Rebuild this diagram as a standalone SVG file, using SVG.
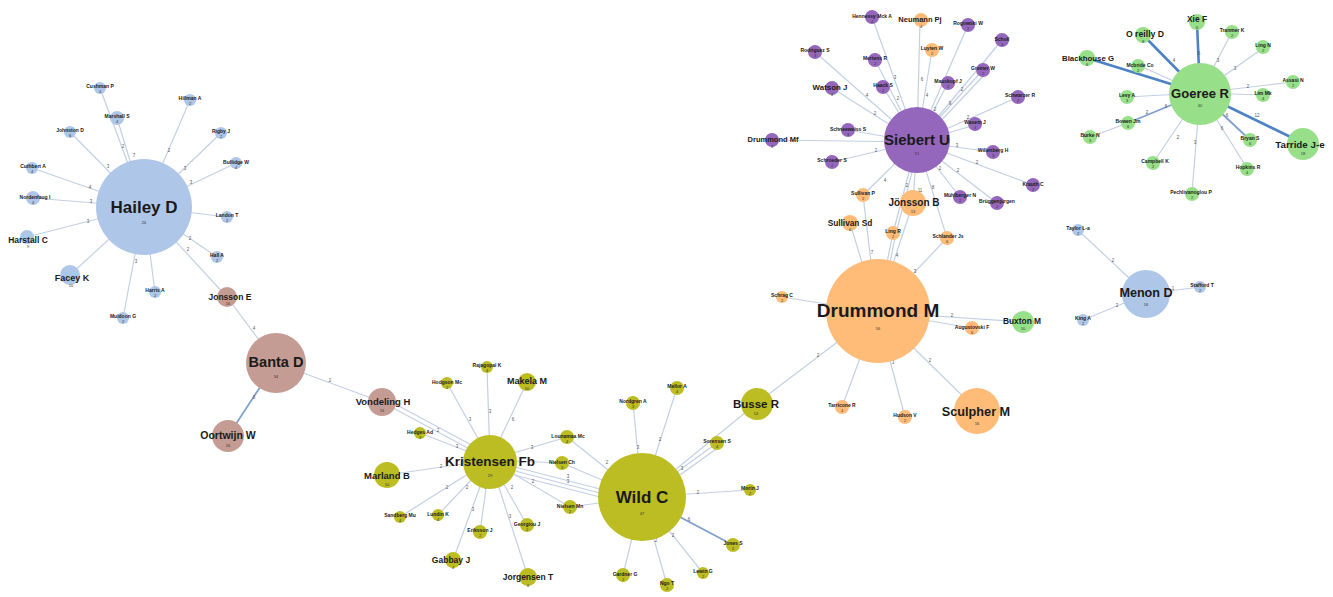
<svg xmlns="http://www.w3.org/2000/svg" width="1333" height="597" viewBox="0 0 1333 597">
<style>
text{font-family:"Liberation Sans",Arial,sans-serif;font-weight:bold;fill:#1a1a1a;text-anchor:middle}
.e line{stroke:#c3d0e4;stroke-width:1.2}
.e line.t{stroke:#4d82c4;stroke-width:2.6}
.e line.m{stroke:#7fa0cf;stroke-width:1.8}
.w text{font-size:4.5px;font-weight:normal;fill:#555}
.b{fill:#aec7e8}.r{fill:#c49c94}.y{fill:#bcbd22}.o{fill:#ffbb78}.p{fill:#9467bd}.g{fill:#98df8a}
text.s{font-size:5px}
text.n{font-size:4px;font-weight:normal;fill:#333}
</style>
<rect width="1333" height="597" fill="#ffffff"/>
<g id="connectors" class="e">
<!-- Hailey -->
<line x1="144" y1="207" x2="100" y2="88"/><line x1="144" y1="207" x2="117" y2="118"/><line x1="144" y1="207" x2="70" y2="132"/>
<line x1="144" y1="207" x2="190" y2="100"/><line x1="144" y1="207" x2="221" y2="133"/><line x1="144" y1="207" x2="236" y2="163"/>
<line x1="144" y1="207" x2="227" y2="217"/><line x1="144" y1="207" x2="217" y2="257"/><line x1="144" y1="207" x2="155" y2="292"/>
<line x1="144" y1="207" x2="123" y2="318"/><line x1="144" y1="207" x2="70" y2="275"/><line x1="144" y1="207" x2="27" y2="237"/>
<line x1="144" y1="207" x2="33" y2="198"/><line x1="144" y1="207" x2="32" y2="168"/><line x1="144" y1="207" x2="227" y2="297"/>
<!-- Banta -->
<line x1="227" y1="297" x2="276" y2="363"/><line class="m" x1="276" y1="363" x2="228" y2="436"/><line x1="276" y1="363" x2="382" y2="402"/>
<line x1="382" y1="402" x2="490" y2="460"/><line x1="384" y1="398" x2="490" y2="455"/>
<!-- Kristensen -->
<line x1="420" y1="433" x2="490" y2="460"/><line x1="490" y1="460" x2="487" y2="367"/><line x1="490" y1="460" x2="447" y2="383"/>
<line x1="490" y1="460" x2="527" y2="382"/><line x1="490" y1="460" x2="387" y2="475"/><line x1="490" y1="460" x2="400" y2="517"/>
<line x1="490" y1="460" x2="438" y2="515"/><line x1="490" y1="460" x2="480" y2="532"/><line x1="490" y1="460" x2="527" y2="525"/>
<line x1="490" y1="460" x2="453" y2="560"/><line x1="490" y1="460" x2="528" y2="577"/><line x1="490" y1="460" x2="567" y2="437"/>
<line x1="490" y1="460" x2="562" y2="463"/><line x1="490" y1="460" x2="570" y2="507"/>
<line x1="515" y1="467" x2="600" y2="489"/><line x1="515" y1="471" x2="600" y2="493"/><line x1="514" y1="475" x2="600" y2="497"/>
<!-- Wild -->
<line x1="567" y1="437" x2="642" y2="497"/><line x1="562" y1="463" x2="642" y2="497"/><line x1="570" y1="507" x2="642" y2="497"/>
<line x1="642" y1="497" x2="633" y2="403"/><line x1="642" y1="497" x2="677" y2="388"/><line x1="642" y1="497" x2="717" y2="443"/>
<line x1="645" y1="500" x2="719" y2="447"/><line x1="642" y1="497" x2="757" y2="403"/><line x1="642" y1="497" x2="750" y2="490"/>
<line class="m" x1="642" y1="497" x2="733" y2="545"/><line x1="642" y1="497" x2="703" y2="573"/><line x1="642" y1="497" x2="667" y2="585"/>
<line x1="642" y1="497" x2="623" y2="575"/>
<!-- Drummond -->
<line x1="757" y1="403" x2="877" y2="312"/><line x1="877" y1="312" x2="863" y2="195"/><line x1="877" y1="312" x2="913" y2="203"/>
<line x1="877" y1="312" x2="850" y2="223"/><line x1="877" y1="312" x2="893" y2="233"/><line x1="880" y1="312" x2="896" y2="233"/>
<line x1="877" y1="312" x2="947" y2="238"/><line x1="877" y1="312" x2="782" y2="297"/><line x1="877" y1="312" x2="1023" y2="322"/>
<line x1="877" y1="312" x2="972" y2="328"/><line x1="877" y1="312" x2="842" y2="407"/><line x1="877" y1="312" x2="905" y2="417"/>
<line x1="877" y1="312" x2="977" y2="410"/>
<!-- Siebert -->
<line x1="917" y1="142" x2="872" y2="17"/><line x1="917" y1="142" x2="920" y2="20"/><line x1="917" y1="142" x2="968" y2="25"/>
<line x1="917" y1="142" x2="815" y2="52"/><line x1="917" y1="142" x2="932" y2="50"/><line x1="917" y1="142" x2="1002" y2="40"/>
<line x1="917" y1="142" x2="875" y2="60"/><line x1="917" y1="142" x2="983" y2="70"/><line x1="921" y1="142" x2="986" y2="73"/>
<line x1="917" y1="142" x2="832" y2="88"/><line x1="917" y1="142" x2="883" y2="87"/><line x1="917" y1="142" x2="948" y2="83"/>
<line x1="917" y1="142" x2="1018" y2="97"/><line x1="917" y1="142" x2="848" y2="130"/><line x1="917" y1="142" x2="772" y2="140"/>
<line x1="917" y1="142" x2="975" y2="125"/><line x1="917" y1="142" x2="832" y2="162"/><line x1="917" y1="142" x2="993" y2="152"/>
<line x1="917" y1="142" x2="1033" y2="185"/><line x1="917" y1="142" x2="960" y2="197"/><line x1="917" y1="142" x2="997" y2="203"/>
<line x1="917" y1="142" x2="863" y2="195"/><line x1="917" y1="142" x2="913" y2="203"/><line x1="917" y1="142" x2="893" y2="233"/>
<line x1="920" y1="142" x2="896" y2="233"/><line x1="917" y1="142" x2="947" y2="238"/>
<!-- Goeree -->
<line class="t" x1="1200" y1="93" x2="1197" y2="23"/><line class="t" x1="1200" y1="93" x2="1143" y2="35"/><line x1="1200" y1="93" x2="1232" y2="32"/>
<line x1="1200" y1="93" x2="1263" y2="48"/><line class="t" x1="1200" y1="93" x2="1087" y2="58"/><line x1="1200" y1="93" x2="1138" y2="65"/>
<line x1="1200" y1="93" x2="1293" y2="82"/><line x1="1200" y1="93" x2="1127" y2="97"/><line x1="1200" y1="93" x2="1263" y2="95"/>
<line class="m" x1="1200" y1="93" x2="1128" y2="123"/><line x1="1128" y1="123" x2="1090" y2="137"/><line class="m" x1="1200" y1="93" x2="1250" y2="140"/>
<line class="t" x1="1200" y1="93" x2="1303" y2="143"/><line x1="1200" y1="93" x2="1153" y2="163"/><line x1="1200" y1="93" x2="1247" y2="168"/>
<line x1="1200" y1="93" x2="1192" y2="193"/>
<!-- Menon -->
<line x1="1146" y1="294" x2="1078" y2="230"/><line x1="1146" y1="294" x2="1200" y2="287"/><line x1="1146" y1="294" x2="1083" y2="320"/>
</g>
<g id="weights" class="w">
<text x="123" y="148">2</text><text x="134" y="157">7</text><text x="108" y="168">3</text><text x="169" y="152">2</text><text x="185" y="170">3</text>
<text x="191" y="184">3</text><text x="190" y="240">2</text><text x="136" y="263">3</text><text x="88" y="223">3</text><text x="91" y="203">3</text>
<text x="90" y="189">4</text><text x="188" y="251">2</text><text x="254" y="330">4</text><text x="254" y="399">6</text><text x="330" y="382">2</text>
<text x="438" y="432">2</text><text x="457" y="448">3</text><text x="490" y="413">3</text><text x="470" y="421">3</text><text x="513" y="421">6</text>
<text x="441" y="468">2</text><text x="447" y="489">2</text><text x="467" y="489">2</text><text x="485" y="489">3</text><text x="512" y="489">2</text>
<text x="473" y="511">3</text><text x="510" y="518">3</text><text x="532" y="449">3</text><text x="568" y="478">3</text><text x="568" y="483">3</text>
<text x="533" y="483">2</text><text x="607" y="464">2</text><text x="638" y="449">3</text><text x="660" y="441">2</text><text x="682" y="470">3</text>
<text x="698" y="494">2</text><text x="689" y="521">6</text><text x="673" y="537">2</text><text x="656" y="542">2</text><text x="818" y="357">2</text>
<text x="872" y="254">7</text><text x="897" y="257">4</text><text x="915" y="273">3</text><text x="952" y="317">2</text><text x="893" y="364">3</text>
<text x="930" y="362">2</text><text x="885" y="182">4</text><text x="907" y="187">2</text><text x="920" y="192">11</text><text x="933" y="189">8</text>
<text x="895" y="79">3</text><text x="898" y="100">2</text><text x="867" y="97">4</text><text x="875" y="115">2</text><text x="922" y="81">6</text>
<text x="927" y="97">4</text><text x="935" y="111">2</text><text x="950" y="105">9</text><text x="962" y="91">2</text><text x="968" y="119">2</text>
<text x="957" y="147">3</text><text x="977" y="164">2</text><text x="958" y="172">2</text><text x="940" y="170">2</text><text x="876" y="152">2</text>
<text x="1199" y="55">6</text><text x="1174" y="62">4</text><text x="1218" y="62">3</text><text x="1235" y="70">3</text><text x="1248" y="88">2</text>
<text x="1147" y="114">2</text><text x="1166" y="108">6</text><text x="1227" y="117">6</text><text x="1257" y="117">12</text><text x="1178" y="139">2</text>
<text x="1222" y="130">6</text><text x="1195" y="144">3</text><text x="1113" y="262">2</text><text x="1173" y="290">1</text><text x="1117" y="307">2</text>
</g>
<!-- Hailey cluster -->
<g id="n-hailey"><circle class="b" cx="144" cy="207" r="48"/><text x="144" y="213" font-size="17">Hailey D</text><text class="n" x="144" y="224" font-size="5">26</text></g>
<g id="n-cushman"><circle class="b" cx="100" cy="88" r="6"/><text class="s" x="100" y="88">Cushman P</text><text class="n" x="100" y="93">4</text></g>
<g id="n-marshall"><circle class="b" cx="117" cy="118" r="7"/><text class="s" x="117" y="118">Marshall S</text><text class="n" x="117" y="123">4</text></g>
<g id="n-johnston"><circle class="b" cx="70" cy="132" r="6"/><text class="s" x="70" y="132">Johnston D</text><text class="n" x="70" y="137">6</text></g>
<g id="n-hillman"><circle class="b" cx="190" cy="100" r="6"/><text class="s" x="190" y="100">Hillman A</text><text class="n" x="190" y="105">2</text></g>
<g id="n-rigby"><circle class="b" cx="221" cy="133" r="6"/><text class="s" x="221" y="133">Rigby J</text><text class="n" x="221" y="138">2</text></g>
<g id="n-bullidge"><circle class="b" cx="236" cy="163" r="6"/><text class="s" x="236" y="164">Bullidge W</text><text class="n" x="236" y="169">4</text></g>
<g id="n-landon"><circle class="b" cx="227" cy="217" r="6"/><text class="s" x="227" y="217">Landon T</text><text class="n" x="227" y="222">2</text></g>
<g id="n-hall"><circle class="b" cx="217" cy="257" r="6"/><text class="s" x="217" y="257">Hall A</text><text class="n" x="217" y="262">2</text></g>
<g id="n-harris"><circle class="b" cx="155" cy="292" r="6"/><text class="s" x="155" y="292">Harris A</text><text class="n" x="155" y="297">2</text></g>
<g id="n-muldoon"><circle class="b" cx="123" cy="318" r="6"/><text class="s" x="123" y="318">Muldoon G</text><text class="n" x="123" y="323">2</text></g>
<g id="n-facey"><circle class="b" cx="70" cy="275" r="10"/><text x="72" y="281" font-size="9">Facey K</text><text class="n" x="71" y="287">10</text></g>
<g id="n-harstall"><circle class="b" cx="27" cy="237" r="7"/><text x="28" y="243" font-size="8.5">Harstall C</text><text class="n" x="28" y="248">9</text></g>
<g id="n-nordenfaug"><circle class="b" cx="33" cy="198" r="7"/><text class="s" x="35" y="199">Nordenfaug I</text><text class="n" x="33" y="204">4</text></g>
<g id="n-cuthbert"><circle class="b" cx="32" cy="168" r="6"/><text class="s" x="33" y="168">Cuthbert A</text><text class="n" x="32" y="173">4</text></g>
<!-- Banta cluster -->
<g id="n-jonsson-e"><circle class="r" cx="227" cy="297" r="10"/><text x="230" y="300" font-size="8.5">Jonsson E</text><text class="n" x="228" y="305">16</text></g>
<g id="n-banta"><circle class="r" cx="276" cy="363" r="30"/><text x="276" y="367" font-size="14.5">Banta D</text><text class="n" x="276" y="378">34</text></g>
<g id="n-oortwijn"><circle class="r" cx="228" cy="436" r="16"/><text x="228" y="439" font-size="10.5">Oortwijn W</text><text class="n" x="228" y="447">16</text></g>
<g id="n-vondeling"><circle class="r" cx="382" cy="402" r="14"/><text x="383" y="405" font-size="9.5">Vondeling H</text><text class="n" x="382" y="412">16</text></g>
<!-- Kristensen cluster -->
<g id="n-kristensen"><circle class="y" cx="490" cy="462" r="27"/><text x="490" y="466" font-size="13.5">Kristensen Fb</text><text class="n" x="490" y="477">29</text></g>
<g id="n-rajagopal"><circle class="y" cx="487" cy="367" r="6"/><text class="s" x="487" y="367">Rajagopal K</text><text class="n" x="487" y="372">4</text></g>
<g id="n-hodgson"><circle class="y" cx="447" cy="383" r="6"/><text class="s" x="447" y="384">Hodgson Mc</text><text class="n" x="447" y="389">2</text></g>
<g id="n-makela"><circle class="y" cx="527" cy="382" r="9"/><text x="527" y="384" font-size="9">Makela M</text><text class="n" x="527" y="390">10</text></g>
<g id="n-hedges"><circle class="y" cx="420" cy="433" r="6"/><text class="s" x="420" y="434">Hedges Ad</text><text class="n" x="420" y="439">3</text></g>
<g id="n-marland"><circle class="y" cx="387" cy="475" r="13"/><text x="387" y="479" font-size="9.5">Marland B</text><text class="n" x="387" y="486">10</text></g>
<g id="n-sandberg"><circle class="y" cx="400" cy="517" r="6"/><text class="s" x="400" y="517">Sandberg Mu</text><text class="n" x="400" y="522">4</text></g>
<g id="n-lundin"><circle class="y" cx="438" cy="515" r="6"/><text class="s" x="438" y="516">Lundin K</text><text class="n" x="438" y="521">4</text></g>
<g id="n-eriksson"><circle class="y" cx="480" cy="532" r="7"/><text class="s" x="480" y="532">Eriksson J</text><text class="n" x="480" y="537">2</text></g>
<g id="n-georgiou"><circle class="y" cx="527" cy="525" r="7"/><text class="s" x="527" y="526">Georgiou J</text><text class="n" x="527" y="531">2</text></g>
<g id="n-gabbay"><circle class="y" cx="453" cy="560" r="8"/><text x="451" y="563" font-size="8.5">Gabbay J</text><text class="n" x="453" y="569">4</text></g>
<g id="n-jorgensen"><circle class="y" cx="528" cy="577" r="9"/><text x="528" y="580" font-size="8.5">Jorgensen T</text><text class="n" x="528" y="587">6</text></g>
<g id="n-lounamaa"><circle class="y" cx="567" cy="437" r="7"/><text class="s" x="568" y="438">Lounamaa Mc</text><text class="n" x="567" y="443">4</text></g>
<g id="n-nielsen-ch"><circle class="y" cx="562" cy="463" r="7"/><text class="s" x="562" y="464">Nielsen Ch</text><text class="n" x="562" y="469">3</text></g>
<g id="n-nielsen-mn"><circle class="y" cx="570" cy="507" r="7"/><text class="s" x="570" y="508">Nielsen Mn</text><text class="n" x="570" y="513">2</text></g>
<!-- Wild cluster -->
<g id="n-wild"><circle class="y" cx="642" cy="497" r="44"/><text x="642" y="503" font-size="17">Wild C</text><text class="n" x="642" y="515">47</text></g>
<g id="n-nordgren"><circle class="y" cx="633" cy="403" r="7"/><text class="s" x="633" y="403">Nordgren A</text><text class="n" x="633" y="408">3</text></g>
<g id="n-mellor"><circle class="y" cx="677" cy="388" r="7"/><text class="s" x="677" y="388">Mellor A</text><text class="n" x="677" y="393">4</text></g>
<g id="n-sorensen"><circle class="y" cx="717" cy="443" r="7"/><text class="s" x="717" y="443">Sorensen S</text><text class="n" x="717" y="448">4</text></g>
<g id="n-busse"><circle class="y" cx="757" cy="404" r="16"/><text x="756" y="408" font-size="11.5">Busse R</text><text class="n" x="756" y="415">14</text></g>
<g id="n-morin"><circle class="y" cx="750" cy="490" r="6"/><text class="s" x="750" y="490">Morin J</text><text class="n" x="750" y="495">2</text></g>
<g id="n-jones"><circle class="y" cx="733" cy="545" r="7"/><text class="s" x="733" y="545">Jones S</text><text class="n" x="733" y="550">2</text></g>
<g id="n-lewin"><circle class="y" cx="703" cy="573" r="6"/><text class="s" x="703" y="573">Lewin G</text><text class="n" x="703" y="578">2</text></g>
<g id="n-ngo"><circle class="y" cx="667" cy="585" r="7"/><text class="s" x="667" y="585">Ngo T</text><text class="n" x="667" y="590">2</text></g>
<g id="n-gardner"><circle class="y" cx="623" cy="575" r="7"/><text class="s" x="625" y="576">Gardner G</text><text class="n" x="623" y="581">2</text></g>
<!-- Drummond cluster -->
<g id="n-drummond"><circle class="o" cx="878" cy="311" r="52"/><text x="878" y="317" font-size="19">Drummond M</text><text class="n" x="878" y="330">56</text></g>
<g id="n-sullivan-p"><circle class="o" cx="863" cy="195" r="7"/><text class="s" x="863" y="195">Sullivan P</text><text class="n" x="863" y="200">2</text></g>
<g id="n-jonsson-b"><circle class="o" cx="913" cy="203" r="13"/><text x="914" y="206" font-size="10">Jönsson B</text><text class="n" x="913" y="213">13</text></g>
<g id="n-sullivan-sd"><circle class="o" cx="850" cy="223" r="8"/><text x="850" y="226" font-size="8.3">Sullivan Sd</text><text class="n" x="850" y="231">6</text></g>
<g id="n-ling-r"><circle class="o" cx="893" cy="233" r="7"/><text class="s" x="893" y="233">Ling R</text><text class="n" x="893" y="238">2</text></g>
<g id="n-schlander"><circle class="o" cx="947" cy="238" r="7"/><text class="s" x="948" y="238">Schlander Js</text><text class="n" x="947" y="243">6</text></g>
<g id="n-schrag"><circle class="o" cx="782" cy="297" r="6"/><text class="s" x="782" y="297">Schrag C</text><text class="n" x="782" y="302">2</text></g>
<g id="n-augustovski"><circle class="o" cx="972" cy="328" r="7"/><text class="s" x="972" y="329">Augustovski F</text><text class="n" x="972" y="334">6</text></g>
<g id="n-buxton"><circle class="g" cx="1023" cy="322" r="11"/><text x="1022" y="324" font-size="8.4">Buxton M</text><text class="n" x="1023" y="330">10</text></g>
<g id="n-tarricone"><circle class="o" cx="842" cy="407" r="7"/><text class="s" x="842" y="407">Tarricone R</text><text class="n" x="842" y="412">4</text></g>
<g id="n-hudson"><circle class="o" cx="905" cy="417" r="7"/><text class="s" x="905" y="417">Hudson V</text><text class="n" x="905" y="422">2</text></g>
<g id="n-sculpher"><circle class="o" cx="977" cy="411" r="23"/><text x="976" y="416" font-size="12.7">Sculpher M</text><text class="n" x="977" y="425">16</text></g>
<!-- Siebert cluster -->
<g id="n-siebert"><circle class="p" cx="917" cy="140" r="33"/><text x="917" y="145" font-size="15">Siebert U</text><text class="n" x="917" y="155">51</text></g>
<g id="n-hennessy"><circle class="p" cx="872" cy="17" r="7"/><text class="s" x="872" y="18">Hennessy Mck A</text><text class="n" x="872" y="23">4</text></g>
<g id="n-neumann"><circle class="o" cx="921" cy="20" r="7"/><text x="920" y="22" font-size="7.5">Neumann Pj</text><text class="n" x="921" y="28">4</text></g>
<g id="n-rogowski"><circle class="p" cx="968" cy="25" r="7"/><text class="s" x="968" y="25">Rogowski W</text><text class="n" x="968" y="30">2</text></g>
<g id="n-rodriguez"><circle class="p" cx="815" cy="52" r="7"/><text class="s" x="815" y="52">Rodriguez S</text><text class="n" x="815" y="57">3</text></g>
<g id="n-luyten"><circle class="o" cx="932" cy="50" r="7"/><text class="s" x="932" y="50">Luyten W</text><text class="n" x="932" y="55">2</text></g>
<g id="n-scholl"><circle class="p" cx="1002" cy="40" r="7"/><text class="s" x="1002" y="41">Scholl</text><text class="n" x="1002" y="46">3</text></g>
<g id="n-mertens"><circle class="p" cx="875" cy="60" r="7"/><text class="s" x="875" y="60">Mertens R</text><text class="n" x="875" y="65">2</text></g>
<g id="n-greiner"><circle class="p" cx="983" cy="70" r="7"/><text class="s" x="983" y="70">Greiner W</text><text class="n" x="983" y="75">2</text></g>
<g id="n-watson"><circle class="p" cx="832" cy="88" r="7"/><text x="830" y="90" font-size="7.9">Watson J</text><text class="n" x="832" y="96">4</text></g>
<g id="n-haack"><circle class="p" cx="883" cy="87" r="7"/><text class="s" x="883" y="87">Haack S</text><text class="n" x="883" y="92">2</text></g>
<g id="n-mauskopf"><circle class="p" cx="948" cy="83" r="7"/><text class="s" x="948" y="83">Mauskopf J</text><text class="n" x="948" y="88">2</text></g>
<g id="n-schwarzer"><circle class="p" cx="1018" cy="97" r="7"/><text class="s" x="1020" y="97">Schwarzer R</text><text class="n" x="1018" y="102">2</text></g>
<g id="n-schneeweiss"><circle class="p" cx="848" cy="130" r="7"/><text class="s" x="848" y="131">Schneeweiss S</text><text class="n" x="848" y="136">3</text></g>
<g id="n-drummond-mf"><circle class="p" cx="772" cy="140" r="7"/><text x="773" y="142" font-size="7.5">Drummond Mf</text><text class="n" x="772" y="148">4</text></g>
<g id="n-wasem"><circle class="p" cx="975" cy="124" r="7"/><text class="s" x="975" y="124">Wasem J</text><text class="n" x="975" y="129">4</text></g>
<g id="n-schroeder"><circle class="p" cx="832" cy="162" r="7"/><text class="s" x="832" y="162">Schroeder S</text><text class="n" x="832" y="167">2</text></g>
<g id="n-willenberg"><circle class="p" cx="993" cy="152" r="7"/><text class="s" x="993" y="152">Willenberg H</text><text class="n" x="993" y="157">3</text></g>
<g id="n-krauth"><circle class="p" cx="1033" cy="185" r="7"/><text class="s" x="1033" y="186">Krauth C</text><text class="n" x="1033" y="191">2</text></g>
<g id="n-muhlberger"><circle class="p" cx="960" cy="197" r="7"/><text class="s" x="960" y="197">Mühlberger N</text><text class="n" x="960" y="202">2</text></g>
<g id="n-bruggen"><circle class="p" cx="997" cy="203" r="7"/><text class="s" x="997" y="203">Brüggenjürgen</text><text class="n" x="997" y="208">2</text></g>
<!-- Goeree cluster -->
<g id="n-goeree"><circle class="g" cx="1200" cy="94" r="31"/><text x="1200" y="98" font-size="13">Goeree R</text><text class="n" x="1200" y="107">40</text></g>
<g id="n-xie"><circle class="g" cx="1197" cy="22" r="8"/><text x="1197" y="22" font-size="8.4">Xie F</text><text class="n" x="1197" y="29">6</text></g>
<g id="n-oreilly"><circle class="g" cx="1143" cy="35" r="8"/><text x="1145" y="37" font-size="8.7">O reilly D</text><text class="n" x="1143" y="43">8</text></g>
<g id="n-tranmer"><circle class="g" cx="1232" cy="32" r="7"/><text class="s" x="1232" y="32">Tranmer K</text><text class="n" x="1232" y="37">2</text></g>
<g id="n-ling-n"><circle class="g" cx="1263" cy="47" r="7"/><text class="s" x="1263" y="47">Ling N</text><text class="n" x="1263" y="52">2</text></g>
<g id="n-blackhouse"><circle class="g" cx="1087" cy="58" r="8"/><text x="1088" y="61" font-size="7.8">Blackhouse G</text><text class="n" x="1087" y="66">6</text></g>
<g id="n-mcbride"><circle class="g" cx="1138" cy="66" r="7"/><text class="s" x="1140" y="67">Mcbride Co</text><text class="n" x="1138" y="72">2</text></g>
<g id="n-assasi"><circle class="g" cx="1293" cy="82" r="7"/><text class="s" x="1293" y="82">Assasi N</text><text class="n" x="1293" y="87">2</text></g>
<g id="n-levy"><circle class="g" cx="1127" cy="97" r="7"/><text class="s" x="1127" y="97">Levy A</text><text class="n" x="1127" y="102">3</text></g>
<g id="n-lim"><circle class="g" cx="1263" cy="95" r="7"/><text class="s" x="1263" y="95">Lim Mk</text><text class="n" x="1263" y="100">4</text></g>
<g id="n-bowen"><circle class="g" cx="1128" cy="123" r="7"/><text class="s" x="1128" y="123">Bowen Jm</text><text class="n" x="1128" y="128">6</text></g>
<g id="n-burke"><circle class="g" cx="1090" cy="137" r="7"/><text class="s" x="1090" y="137">Burke N</text><text class="n" x="1090" y="142">3</text></g>
<g id="n-bryan"><circle class="g" cx="1250" cy="140" r="7"/><text class="s" x="1250" y="140">Bryan S</text><text class="n" x="1250" y="145">6</text></g>
<g id="n-tarride"><circle class="g" cx="1303" cy="144" r="16"/><text x="1300" y="148" font-size="9.8">Tarride J-e</text><text class="n" x="1303" y="155">18</text></g>
<g id="n-campbell"><circle class="g" cx="1153" cy="163" r="7"/><text class="s" x="1155" y="163">Campbell K</text><text class="n" x="1153" y="168">2</text></g>
<g id="n-hopkins"><circle class="g" cx="1247" cy="169" r="7"/><text class="s" x="1248" y="169">Hopkins R</text><text class="n" x="1247" y="174">4</text></g>
<g id="n-pechlivanoglou"><circle class="g" cx="1192" cy="194" r="7"/><text class="s" x="1191" y="194">Pechlivanoglou P</text><text class="n" x="1192" y="199">2</text></g>
<!-- Menon cluster -->
<g id="n-menon"><circle class="b" cx="1146" cy="294" r="24"/><text x="1146" y="297" font-size="12.6">Menon D</text><text class="n" x="1146" y="306">16</text></g>
<g id="n-taylor"><circle class="b" cx="1078" cy="230" r="6"/><text class="s" x="1078" y="230">Taylor L-a</text><text class="n" x="1078" y="235">2</text></g>
<g id="n-stafford"><circle class="b" cx="1200" cy="287" r="6"/><text class="s" x="1202" y="287">Stafford T</text><text class="n" x="1200" y="292">2</text></g>
<g id="n-king"><circle class="b" cx="1083" cy="320" r="6"/><text class="s" x="1083" y="320">King A</text><text class="n" x="1083" y="325">2</text></g>
</svg>
